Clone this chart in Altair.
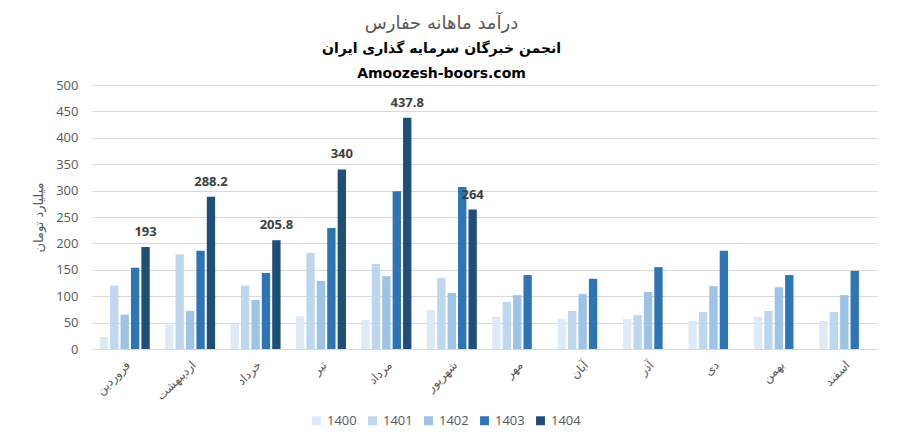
import altair as alt
import pandas as pd

months = ["فروردین", "اردیبهشت", "خرداد", "تیر", "مرداد", "شهریور",
          "مهر", "آبان", "آذر", "دی", "بهمن", "اسفند"]
years = ["1400", "1401", "1402", "1403", "1404"]
colors = ["#DEEBF7", "#BDD7EE", "#9DC3E6", "#2E75B6", "#1F4E79"]

v1400 = [23, 46, 48, 62, 55, 74, 61, 57, 57, 53, 61, 53]
v1401 = [120, 179, 120, 182, 161, 135, 89, 72, 64, 70, 72, 70]
v1402 = [65, 72, 93, 129, 138, 106, 102, 104, 108, 119, 117, 102]
v1403 = [154, 186, 144, 229, 299, 307, 140, 133, 155, 186, 140, 148]
v1404 = [193, 288.2, 205.8, 340, 437.8, 264, None, None, None, None, None, None]

y_ticks = [0, 50, 100, 150, 200, 250, 300, 350, 400, 450, 500]

rows = []
for yr, vals in zip(years, [v1400, v1401, v1402, v1403, v1404]):
    for m, v in zip(months, vals):
        if v is not None:
            rows.append({"month": m, "year": yr, "value": v,
                         "label": (f"{v:g}" if yr == "1404" else "")})
df = pd.DataFrame(rows)

FONT = "'Open Sans', 'DejaVu Sans', sans-serif"
PFONT = "'DejaVu Sans', sans-serif"

x_enc = alt.X("month:N", sort=months,
              scale=alt.Scale(paddingInner=0.235, paddingOuter=0.1175),
              axis=alt.Axis(title=None, labelAngle=-45, labelFont=PFONT,
                            labelFontSize=12, labelColor="#595959",
                            labelPadding=10, ticks=False, domainColor="#d9d9d9",
                            grid=False))
xoff_enc = alt.XOffset("year:N", sort=years,
                       scale=alt.Scale(domain=years, paddingInner=0.2, paddingOuter=0))
y_enc = alt.Y("value:Q", scale=alt.Scale(domain=[0, 500], nice=False),
              axis=alt.Axis(title="میلیارد تومان", titleFont=PFONT,
                            titleFontSize=13, titleFontWeight="normal",
                            titleColor="#595959", titlePadding=10,
                            values=y_ticks, labelFont=FONT, labelFontSize=13,
                            labelColor="#595959", labelPadding=14,
                            ticks=False, domain=False, gridColor="#d9d9d9"))

bars = alt.Chart(df).mark_bar().encode(
    x=x_enc, xOffset=xoff_enc, y=y_enc,
    color=alt.Color("year:N", scale=alt.Scale(domain=years, range=colors),
                    legend=alt.Legend(title=None, orient="none", direction="horizontal",
                                      legendX=218, legendY=329,
                                      symbolType="square", symbolSize=80,
                                      symbolStrokeWidth=0,
                                      labelFont=FONT, labelFontSize=13,
                                      labelColor="#595959", columnPadding=9))
)

labels = alt.Chart(df).transform_filter(alt.datum.year == "1404").mark_text(
    dy=-15, fontWeight="bold", fontSize=13, font=FONT, color="#404040"
).encode(x=x_enc, xOffset=xoff_enc, y=y_enc, text="label:N")

chart = alt.layer(bars, labels).properties(
    width=785, height=264,
    autosize=alt.AutoSizeParams(type="none"),
    padding={"left": 84, "top": 77, "right": 13, "bottom": 85},
    title=alt.TitleParams(
        text="درآمد ماهانه حفارس",
        subtitle=["انجمن خبرگان سرمایه گذاری ایران", "Amoozesh-boors.com"],
        font=PFONT, fontSize=18, fontWeight="normal", color="#595959",
        subtitleFont=PFONT, subtitleFontSize=14, subtitleFontWeight="bold",
        subtitleColor="#000000", subtitleLineHeight=25, subtitlePadding=9,
        anchor="middle", dx=-43, offset=-2)
).configure_view(stroke=None)

chart.save("out.html", embed_options={"renderer": "svg", "actions": False})
